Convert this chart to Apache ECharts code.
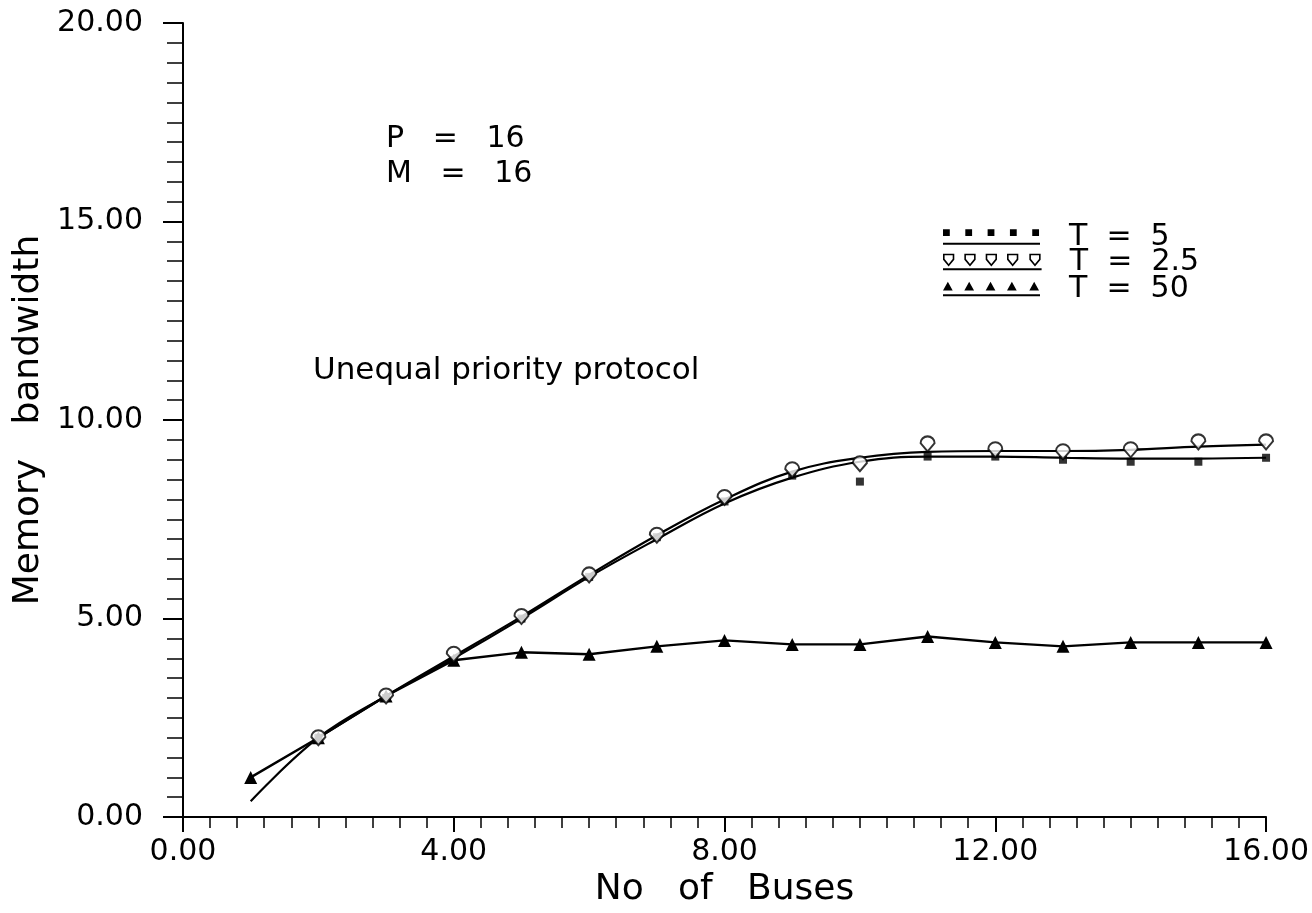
<!DOCTYPE html>
<html>
<head>
<meta charset="utf-8">
<script src="https://cdn.jsdelivr.net/npm/echarts@6/dist/echarts.min.js"></script>
<style>
  html, body { margin: 0; padding: 0; background: #fff; }
  #chart { width: 1312px; height: 913px; }
</style>
</head>
<body>
<div id="chart"></div>
<script>
// number of buses on the x axis
const buses = [1, 2, 3, 4, 5, 6, 7, 8, 9, 10, 11, 12, 13, 14, 15, 16];

// T = 5 : fitted curve and measured points
const t5Curve = [0.4, 2.0, 3.05, 4.0, 5.0, 6.05, 7.0, 7.9, 8.55, 8.95, 9.08, 9.08, 9.05, 9.03, 9.03, 9.05];
const t5Marks = [null, 2.0, 3.0, 3.95, 5.0, 6.05, 7.05, 7.95, 8.6, 8.45, 9.08, 9.08, 9.0, 8.95, 8.95, 9.05];

// T = 2.5 : fitted curve and measured points
const t25Curve = [null, 2.0, 3.05, 4.05, 5.05, 6.1, 7.1, 8.0, 8.7, 9.05, 9.2, 9.22, 9.22, 9.25, 9.33, 9.38];
const t25Marks = [null, 2.0, 3.05, 4.1, 5.05, 6.1, 7.1, 8.05, 8.75, 8.9, 9.4, 9.25, 9.2, 9.25, 9.45, 9.45];

// T = 50 : measured points joined by straight lines
const t50 = [1.0, 2.0, 3.05, 3.95, 4.15, 4.1, 4.3, 4.45, 4.35, 4.35, 4.55, 4.4, 4.3, 4.4, 4.4, 4.4];

const xTicks = [0, 4, 8, 12, 16];
const yTicks = [0, 5, 10, 15, 20];

const legendNames = ['T  =  5', 'T  =  2.5', 'T  =  50'];

function pairs(values) {
  const out = [];
  for (let i = 0; i < buses.length; i++) {
    if (values[i] != null) out.push([buses[i], values[i]]);
  }
  return out;
}

// legend icons: a row of five markers over a line
const underline = 'M0,14h100v2h-100z';
const sqIcon = 'path://M0,0h7v7h-7z M23,0h7v7h-7z M46,0h7v7h-7z M69,0h7v7h-7z M92,0h7v7h-7z ' + underline;
const shieldShape = x => 'M' + x + ',0h10v5l-5,6l-5,-6z ';
const shieldIcon = 'path://' + shieldShape(0) + shieldShape(22) + shieldShape(44) + shieldShape(66) + shieldShape(89) + 'M0,15h100v0.4h-100z';
const triShape = x => 'M' + (x + 5) + ',1l5,9h-10z ';
const triIcon = 'path://' + triShape(0) + triShape(22) + triShape(44) + triShape(66) + triShape(89) + underline;
const shieldMark = 'path://M5,0A5,5 0 0 1 10,5L5,11L0,5A5,5 0 0 1 5,0z';

const font = 'DejaVu Sans';
const dom = document.getElementById('chart');
const myChart = echarts.init(dom, null, { renderer: 'canvas' });

function legendRow(name, icon, style, top) {
  return {
    left: 943,
    top: top,
    padding: 0,
    itemWidth: 97,
    itemHeight: 16,
    textStyle: { fontFamily: font, fontSize: 30, color: '#000', lineHeight: 20, padding: [0, 0, 10, 24] },
    data: [{ name: name, icon: icon, itemStyle: style }]
  };
}

const option = {
  backgroundColor: '#fff',
  animation: false,
  textStyle: { fontFamily: font, color: '#000' },
  grid: { left: 183, width: 1090, top: 23, height: 805 },
  legend: [
    legendRow(legendNames[0], sqIcon, { color: '#000', borderWidth: 0 }, 222),
    legendRow(legendNames[1], shieldIcon, { color: '#fff', borderColor: '#000', borderWidth: 1.6 }, 247),
    legendRow(legendNames[2], triIcon, { color: '#000', borderWidth: 0 }, 274)
  ],
  xAxis: {
    type: 'value',
    min: 0,
    max: 16,
    interval: 4,
    name: 'No   of   Buses',
    nameLocation: 'middle',
    nameGap: 47,
    nameTextStyle: { fontFamily: font, fontSize: 36, color: '#000' },
    axisLine: { show: true, lineStyle: { color: '#000', width: 2 } },
    axisTick: { show: true, inside: false, length: 15, lineStyle: { color: '#000', width: 2 } },
    minorTick: { show: true, splitNumber: 10, length: 11, lineStyle: { color: '#000', width: 1.5 } },
    splitLine: { show: false },
    axisLabel: {
      fontFamily: font, fontSize: 30, color: '#000', margin: 20,
      showMinLabel: true, showMaxLabel: true,
      formatter: v => (xTicks.indexOf(v) >= 0 ? v.toFixed(2) : '')
    }
  },
  yAxis: {
    type: 'value',
    min: 0,
    max: 20,
    interval: 5,
    name: 'Memory   bandwidth',
    nameLocation: 'middle',
    nameGap: 113,
    nameRotate: 90,
    nameTextStyle: { fontFamily: font, fontSize: 36, color: '#000' },
    axisLine: { show: true, lineStyle: { color: '#000', width: 2 } },
    axisTick: { show: true, inside: false, length: 20, lineStyle: { color: '#000', width: 2 } },
    minorTick: { show: true, splitNumber: 10, length: 16, lineStyle: { color: '#000', width: 1.5 } },
    splitLine: { show: false },
    axisLabel: {
      fontFamily: font, fontSize: 30, color: '#000', margin: 40,
      formatter: v => (yTicks.indexOf(v) >= 0 ? v.toFixed(2) : '')
    }
  },
  graphic: [
    { type: 'text', left: 386, top: 124, style: { text: 'P   =   16', font: '30px "DejaVu Sans"', fill: '#000' } },
    { type: 'text', left: 386, top: 159, style: { text: 'M   =   16', font: '30px "DejaVu Sans"', fill: '#000' } },
    { type: 'text', left: 313, top: 355, style: { text: 'Unequal priority protocol', font: '31px "DejaVu Sans"', fill: '#000' } }
  ],
  series: [
    {
      name: legendNames[0],
      type: 'line',
      data: pairs(t5Curve),
      smooth: 0.4,
      showSymbol: false,
      lineStyle: { color: '#000', width: 2.2 },
      z: 2
    },
    {
      name: legendNames[0],
      type: 'scatter',
      data: pairs(t5Marks),
      symbol: 'rect',
      symbolSize: 8,
      itemStyle: { color: '#000' },
      z: 4
    },
    {
      name: legendNames[1],
      type: 'line',
      data: pairs(t25Curve),
      smooth: 0.4,
      showSymbol: false,
      lineStyle: { color: '#000', width: 2.2 },
      z: 2
    },
    {
      name: legendNames[1],
      type: 'scatter',
      data: pairs(t25Marks),
      symbol: shieldMark,
      symbolSize: [14, 15],
      itemStyle: { color: '#fff', borderColor: '#000', borderWidth: 2 },
      z: 5
    },
    {
      name: legendNames[2],
      type: 'line',
      data: pairs(t50),
      symbol: 'triangle',
      symbolSize: 13,
      showSymbol: true,
      lineStyle: { color: '#000', width: 2.4 },
      itemStyle: { color: '#000' },
      z: 3
    }
  ]
};

if (option && typeof option === 'object') {
  myChart.setOption(option);
}

window.addEventListener('resize', myChart.resize);
</script>
</body>
</html>
